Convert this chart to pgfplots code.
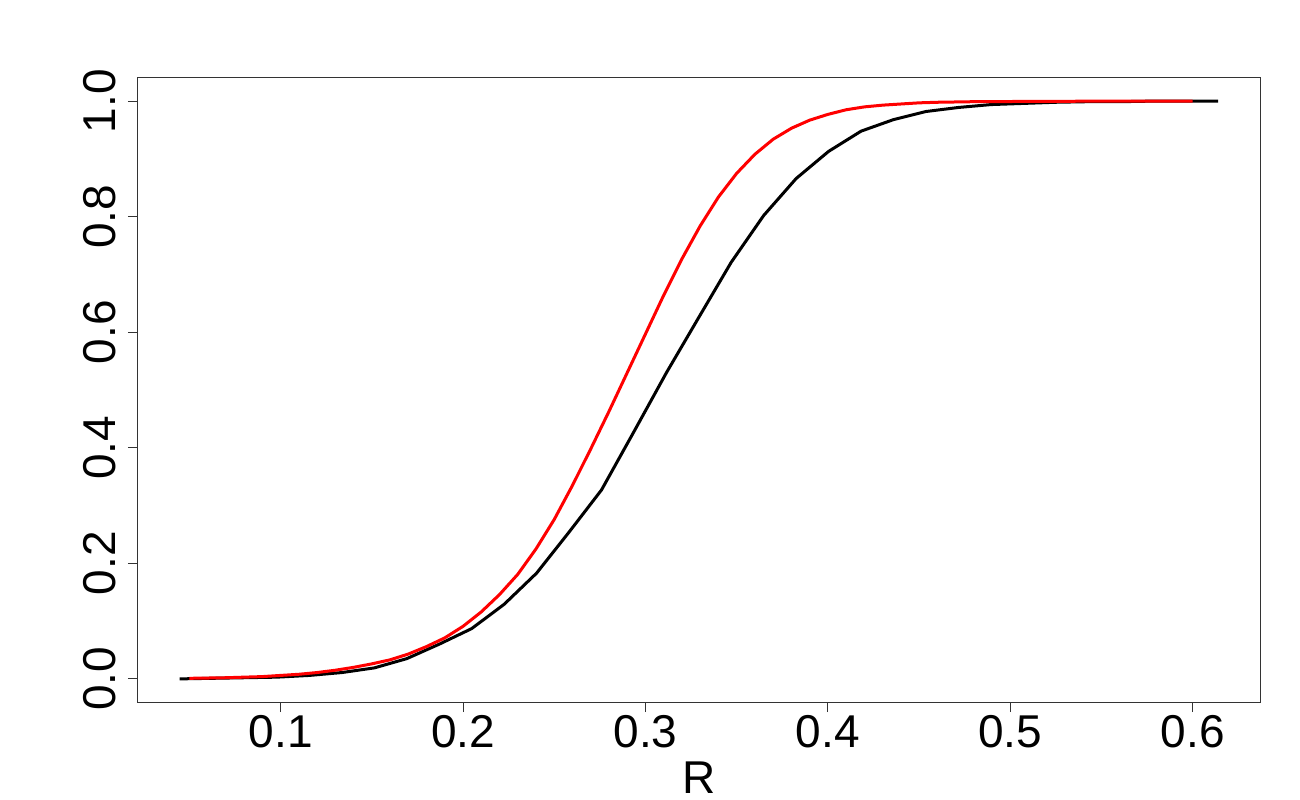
\documentclass[border=0pt]{standalone}
\usepackage{fontspec}
\setmainfont{Liberation Sans}
\usepackage{pgfplots}
\pgfplotsset{compat=1.18}
\begin{document}
\begin{tikzpicture}
\useasboundingbox (-69bp,-49bp) rectangle (581bp,351bp);
\begin{axis}[
  at={(0,0)}, anchor=south west,
  scale only axis, width=561bp, height=312bp,
  xmin=0.0218, xmax=0.6369, ymin=-0.04, ymax=1.04,
  axis line style={line width=0.5bp, black!80},
  xtick={0.1,0.2,0.3,0.4,0.5,0.6},
  ytick={0,0.2,0.4,0.6,0.8,1.0},
  xticklabels={0.1,0.2,0.3,0.4,0.5,0.6},
  yticklabels={0.0,0.2,0.4,0.6,0.8,1.0},
  tick align=outside, major tick length=5bp,
  xtick pos=bottom, ytick pos=left,
  tick style={line width=0.5bp, black!80},
  /pgf/number format/assume math mode=true,
  ticklabel style={font=\fontsize{23bp}{27bp}\selectfont, inner sep=0pt},
  xticklabel style={anchor=north, yshift=-1.5bp},
  yticklabel style={rotate=90, anchor=south, yshift=6bp},
  xlabel={R},
  xlabel style={font=\fontsize{23bp}{27bp}\selectfont, inner sep=0pt, at={(axis description cs:0.5,0)}, anchor=north, yshift=-29.5bp},
]
\addplot[black, line width=1.5bp] coordinates {
(0.0446,0.000) (0.0624,0.001) (0.0802,0.002) (0.0980,0.003) (0.1158,0.006)
(0.1336,0.011) (0.1513,0.019) (0.1691,0.035) (0.1869,0.060) (0.2047,0.087)
(0.2225,0.129) (0.2403,0.183) (0.2581,0.254) (0.2759,0.327) (0.2937,0.428)
(0.3115,0.530) (0.3293,0.626) (0.3470,0.721) (0.3648,0.802) (0.3826,0.866)
(0.4004,0.913) (0.4182,0.948) (0.4360,0.968) (0.4538,0.982) (0.4716,0.989)
(0.4894,0.994) (0.5072,0.996) (0.5249,0.998) (0.5427,0.999) (0.5605,0.999)
(0.5783,1.000) (0.5961,1.000) (0.6139,1.000)
};
\addplot[red, line width=1.5bp] coordinates {
(0.05,0.001) (0.06,0.0015) (0.07,0.002) (0.08,0.003) (0.09,0.004)
(0.10,0.006) (0.11,0.008) (0.12,0.011) (0.13,0.015) (0.14,0.020)
(0.15,0.026) (0.16,0.033) (0.17,0.043) (0.18,0.056) (0.19,0.071)
(0.20,0.091) (0.21,0.116) (0.22,0.146) (0.23,0.181) (0.24,0.225)
(0.25,0.276) (0.26,0.335) (0.27,0.398) (0.28,0.463) (0.29,0.530)
(0.30,0.597) (0.31,0.664) (0.32,0.727) (0.33,0.784) (0.34,0.834)
(0.35,0.875) (0.36,0.908) (0.37,0.934) (0.38,0.953) (0.39,0.967)
(0.40,0.977) (0.41,0.985) (0.42,0.990) (0.43,0.993) (0.44,0.995)
(0.45,0.997) (0.46,0.998) (0.47,0.9985) (0.48,0.999) (0.49,0.999)
(0.50,0.9993) (0.51,0.9995) (0.52,0.9996) (0.53,0.9997) (0.54,0.9998)
(0.55,0.9998) (0.56,0.9999) (0.57,0.9999) (0.58,0.9999) (0.59,0.9999) (0.60,0.9999)
};
\end{axis}
\end{tikzpicture}
\end{document}
